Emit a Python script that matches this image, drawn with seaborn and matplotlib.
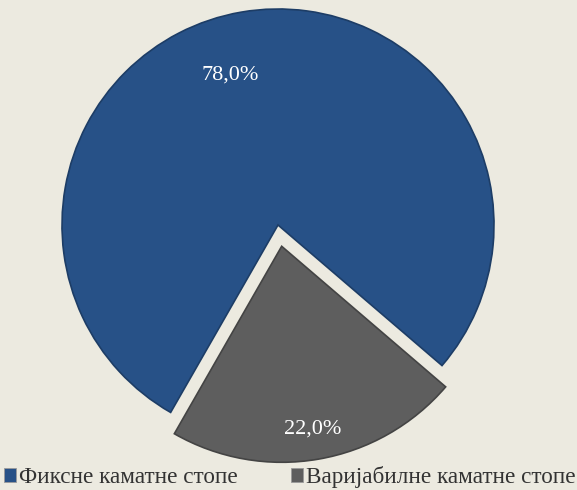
import matplotlib
matplotlib.use("Agg")
import matplotlib.pyplot as plt
import seaborn as sns
import numpy as np

categories = ["Фиксне каматне стопе", "Варијабилне каматне стопе"]
values = [78.0, 22.0]
colors = ["#275187", "#5E5E5E"]
bg = "#ECEAE0"

sns.set_theme(style="white")
plt.rcParams['font.family'] = ['Liberation Serif', 'DejaVu Serif']

fig = plt.figure(figsize=(5.77, 4.90), dpi=100, facecolor=bg)
ax = fig.add_axes([0, 0, 1, 1])
ax.set_facecolor(bg)

wedges, texts, autotexts = ax.pie(
    values, colors=colors, startangle=-40.6, counterclock=True,
    explode=[0, 0.1], radius=1.0,
    autopct=lambda p: f"{p:.1f}%".replace(".", ","),
    pctdistance=0.85,
    wedgeprops=dict(linewidth=1.2, edgecolor="#1d3d66"),
    textprops=dict(color="white", fontsize=16),
)
wedges[1].set_edgecolor("#444444")
autotexts[0].set_position((-0.222, 0.694))
autotexts[1].set_position((autotexts[1].get_position()[0], autotexts[1].get_position()[1] - 0.01))

ax.set_aspect('auto')
R = 216.0
ax.set_xlim(-278 / R, (577 - 278) / R)
ax.set_ylim(-(490 - 225) / R, 225 / R)
ax.axis('off')

from matplotlib.patches import Patch
handles = [Patch(facecolor=c, edgecolor="#9a9a9a", linewidth=0.6) for c in colors]
leg = fig.legend(handles, categories, loc="center", bbox_to_anchor=(0.5026, 0.026),
                 ncol=2, frameon=False, fontsize=16.7, handlelength=0.52, handleheight=0.52,
                 handletextpad=0.12, columnspacing=2.3, borderpad=0, borderaxespad=0)
for t in leg.get_texts():
    t.set_color("#333333")

fig.savefig("out.png", dpi=100, facecolor=bg)
